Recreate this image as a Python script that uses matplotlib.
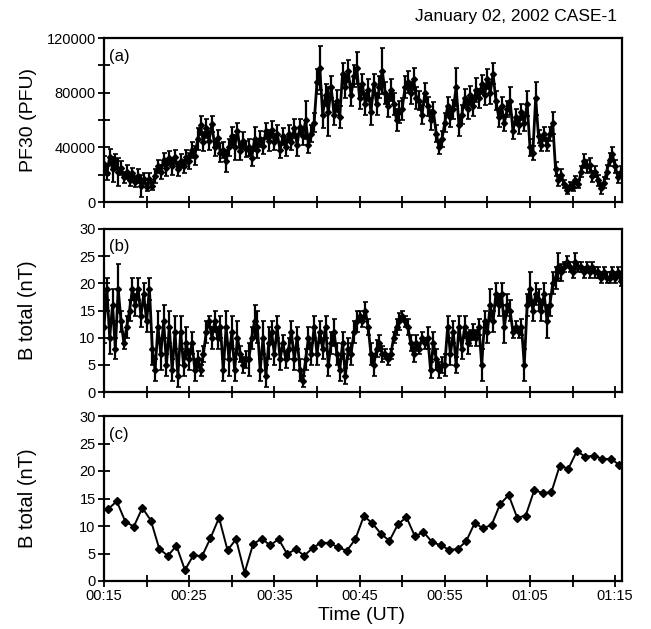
import numpy as np
import matplotlib
matplotlib.use("Agg")
import matplotlib.pyplot as plt
from matplotlib.ticker import MultipleLocator

plt.rcParams["font.family"] = ["Liberation Sans", "DejaVu Sans"]

# 20-s samples, minutes after 00:15 UT
pf30 = [
    28000, 21000, 33000, 24000, 30000, 22000, 25000, 18000, 22000,
    16000, 21000, 15000, 19000, 12000, 17000, 11000, 17000, 12000,
    19000, 26000, 22000, 31000, 25000, 32000, 26000, 33000, 24000,
    30000, 26000, 33000, 30000, 38000, 34000, 46000, 56000, 44000,
    54000, 45000, 57000, 40000, 47000, 36000, 38000, 30000, 40000,
    48000, 40000, 52000, 37000, 45000, 39000, 40000, 32000, 46000,
    38000, 46000, 41000, 52000, 45000, 53000, 44000, 50000, 38000,
    48000, 40000, 50000, 44000, 54000, 42000, 55000, 48000, 60000,
    42000, 50000, 58000, 88000, 98000, 64000, 78000, 66000, 84000,
    64000, 74000, 62000, 94000, 84000, 96000, 78000, 92000, 98000,
    76000, 86000, 72000, 82000, 66000, 86000, 72000, 84000, 96000,
    80000, 70000, 82000, 72000, 60000, 66000, 68000, 84000, 88000,
    80000, 90000, 76000, 74000, 64000, 80000, 70000, 60000, 66000,
    50000, 40000, 46000, 58000, 70000, 62000, 68000, 84000, 56000,
    64000, 76000, 68000, 78000, 70000, 82000, 76000, 86000, 78000,
    90000, 80000, 94000, 74000, 62000, 70000, 58000, 68000, 74000,
    52000, 62000, 56000, 66000, 58000, 72000, 40000, 36000, 76000,
    48000, 42000, 50000, 42000, 50000, 58000, 24000, 16000, 20000,
    13000, 9000, 12000, 11000, 16000, 13000, 22000, 30000, 26000,
    27000, 19000, 22000, 16000, 10000, 14000, 22000, 31000, 35000,
    26000, 18000, 22000,
]
pf30_err = [
    6000, 5000, 6000, 9000, 5000, 10000, 5000, 4000, 5000,
    4000, 4000, 4000, 5000, 8000, 4000, 3000, 4000, 3000,
    5000, 5000, 5000, 5000, 6000, 5000, 6000, 5000, 5000,
    5000, 5000, 5000, 6000, 6000, 7000, 8000, 7000, 7000,
    7000, 7000, 6000, 6000, 6000, 7000, 6000, 8000, 6000,
    7000, 9000, 6000, 6000, 6000, 6000, 6000, 6000, 9000,
    6000, 6000, 6000, 6000, 8000, 6000, 6000, 6000, 6000,
    6000, 6000, 6000, 6000, 7000, 8000, 6000, 6000, 14000,
    6000, 6000, 7000, 9000, 16000, 10000, 8000, 18000, 8000,
    8000, 8000, 8000, 8000, 8000, 8000, 8000, 8000, 12000,
    8000, 8000, 8000, 8000, 10000, 8000, 8000, 8000, 17000,
    8000, 8000, 8000, 8000, 8000, 8000, 8000, 8000, 8000,
    8000, 8000, 8000, 7000, 7000, 7000, 7000, 7000, 7000,
    6000, 5000, 6000, 7000, 7000, 7000, 7000, 14000, 8000,
    7000, 7000, 7000, 7000, 7000, 9000, 7000, 7000, 7000,
    7000, 8000, 8000, 7000, 7000, 7000, 6000, 6000, 10000,
    6000, 6000, 6000, 6000, 6000, 9000, 6000, 5000, 12000,
    5000, 5000, 5000, 5000, 5000, 8000, 5000, 4000, 4000,
    3000, 3000, 3000, 3000, 3000, 3000, 4000, 5000, 5000,
    5000, 4000, 4000, 4000, 4000, 4000, 5000, 5000, 5000,
    5000, 4000, 4000,
]

btot = [
    12, 19, 10, 16, 8, 19, 13, 9, 12,
    15, 19, 16, 19, 14, 18, 13, 19, 8,
    4, 12, 7, 13, 5, 12, 4, 11, 3,
    11, 5, 9, 6, 9, 4, 6, 4, 7,
    11, 13, 10, 13, 10, 12, 4, 12, 6,
    11, 4, 10, 7, 5, 6, 6, 10, 13,
    12, 4, 10, 3, 9, 11, 7, 12, 6,
    9, 6, 8, 11, 6, 10, 4, 2, 6,
    10, 7, 12, 7, 11, 8, 12, 5, 9,
    11, 7, 4, 9, 3, 8, 7, 11, 13,
    14, 13, 15, 12, 7, 5, 8, 9, 7,
    7, 6, 7, 10, 12, 13, 14, 13, 12,
    9, 7, 9, 8, 10, 9, 10, 4, 9,
    6, 4, 5, 5, 12, 7, 11, 5, 12,
    8, 12, 9, 10, 11, 10, 12, 5, 13,
    11, 16, 13, 18, 16, 18, 12, 16, 15,
    11, 12, 11, 12, 5, 16, 19, 15, 18,
    17, 15, 18, 13, 16, 20, 21, 23, 22,
    23, 24, 23, 22, 24, 23, 23, 22, 23,
    22, 23, 22, 22, 21, 22, 21, 21, 22,
    21, 22, 20.5,
]
btot_err = [
    3, 2, 3, 3, 2, 4.5, 2, 1, 2,
    2, 2, 2, 2, 2, 2, 2, 2, 3,
    2, 3, 3, 3, 2, 3, 2, 3, 2,
    3, 2, 3, 2, 2, 2, 1.5, 1, 1.5,
    2, 1, 2, 2, 2, 2, 2, 3, 3,
    3, 2, 3, 1.5, 1.5, 1.5, 3, 2, 3,
    3, 2, 3, 2, 3, 2, 2, 2, 2,
    1.5, 1.5, 2, 2, 2, 2, 2, 1, 2,
    2, 2, 2, 2, 2, 2, 2, 2, 2,
    2.5, 2, 2, 2, 1.5, 2, 2, 2, 2,
    1, 1, 1.5, 1.5, 2, 2, 1.5, 1.5, 1.5,
    1, 1, 1, 1, 1.5, 1.5, 1, 1, 1.5,
    1.5, 1.5, 1.5, 1, 1, 1, 2, 1.5, 2,
    2, 1.5, 1.5, 2, 2, 2, 2, 1.5, 2,
    2, 2, 2, 1.5, 1.5, 1.5, 1.5, 3, 2,
    2, 3, 2, 2, 2, 2, 3, 2, 2,
    1, 1, 1, 1.5, 3, 2, 3, 2, 2,
    2, 2, 2, 3, 2, 2, 2, 2.5, 1.5,
    1, 1, 1, 1, 1.5, 1, 1, 1, 1,
    1, 1, 1, 1, 1, 1, 1, 1, 1,
    1, 1, 1,
]

# one-minute averages, centred on the half minute
btot_1min = [
    13.1, 14.5, 10.8, 9.9, 13.3, 11.0, 5.8, 4.6, 6.4, 2.0,
    4.7, 4.5, 7.8, 11.5, 5.6, 7.6, 1.5, 6.7, 7.7, 6.5,
    7.6, 4.9, 5.8, 4.6, 6.0, 7.0, 6.9, 6.1, 5.5, 7.6,
    11.8, 10.5, 8.6, 7.3, 10.3, 11.6, 8.1, 8.9, 7.1, 6.5,
    5.7, 5.8, 7.2, 10.5, 9.6, 10.2, 14.0, 15.6, 11.5, 11.9,
    16.5, 16.0, 16.1, 21.0, 20.4, 23.6, 22.6, 22.8, 22.2, 22.2,
    21.1,
]

time_labels = ["00:15", "00:25", "00:35", "00:45", "00:55", "01:05", "01:15"]

t20 = np.arange(len(pf30)) / 3.0
t60 = np.arange(len(btot_1min)) + 0.5

W, H = 651, 629
fig = plt.figure(figsize=(W / 100, H / 100), dpi=100)

def box(left, top, right, bottom):
    return [left / W, 1 - bottom / H, (right - left) / W, (bottom - top) / H]

ax_a = fig.add_axes(box(104, 38, 622, 202))
ax_b = fig.add_axes(box(104, 229, 622, 392))
ax_c = fig.add_axes(box(104, 416, 622, 581))

err_kw = dict(fmt="-", color="black", ecolor="black", lw=2.0, elinewidth=1.6,
              capsize=1.8, capthick=1.2, marker="D", ms=3)
ax_a.errorbar(t20, pf30, yerr=pf30_err, **err_kw)
ax_b.errorbar(t20, btot, yerr=btot_err, **err_kw)
ax_c.plot(t60, btot_1min, color="black", lw=1.4, marker="D", ms=4)

ax_a.set_ylim(0, 120000)
ax_a.yaxis.set_major_locator(MultipleLocator(40000))
ax_a.yaxis.set_minor_locator(MultipleLocator(20000))
for ax in (ax_b, ax_c):
    ax.set_ylim(0, 30)
    ax.yaxis.set_major_locator(MultipleLocator(5))

for ax in (ax_a, ax_b, ax_c):
    ax.set_xlim(0, 60.8)
    ax.xaxis.set_major_locator(MultipleLocator(10))
    ax.xaxis.set_minor_locator(MultipleLocator(5))
    ax.tick_params(which="both", direction="inout", length=8, width=1.3,
                   labelsize=10.5, pad=2)
    for sp in ax.spines.values():
        sp.set_linewidth(1.6)
    ax.yaxis.set_label_coords(-0.13, 0.5)

ax_a.set_xticklabels([])
ax_b.set_xticklabels([])
ax_c.set_xticks(np.arange(0, 61, 10))
ax_c.set_xticklabels(time_labels)

ax_a.set_ylabel("PF30 (PFU)", fontsize=14)
ax_b.set_ylabel("B total (nT)", fontsize=14.5)
ax_c.set_ylabel("B total (nT)", fontsize=14.5)

for ax, tag in ((ax_a, "(a)"), (ax_b, "(b)"), (ax_c, "(c)")):
    ax.text(0.01, 0.89, tag, transform=ax.transAxes, fontsize=12,
            ha="left", va="center")

fig.text(362 / W, 1 - 615 / H, "Time (UT)", fontsize=14, ha="center", va="center")
fig.text(617 / W, 1 - 16 / H, "January 02, 2002 CASE-1", fontsize=12.5,
         ha="right", va="center")

fig.savefig("out.png", dpi=100)
